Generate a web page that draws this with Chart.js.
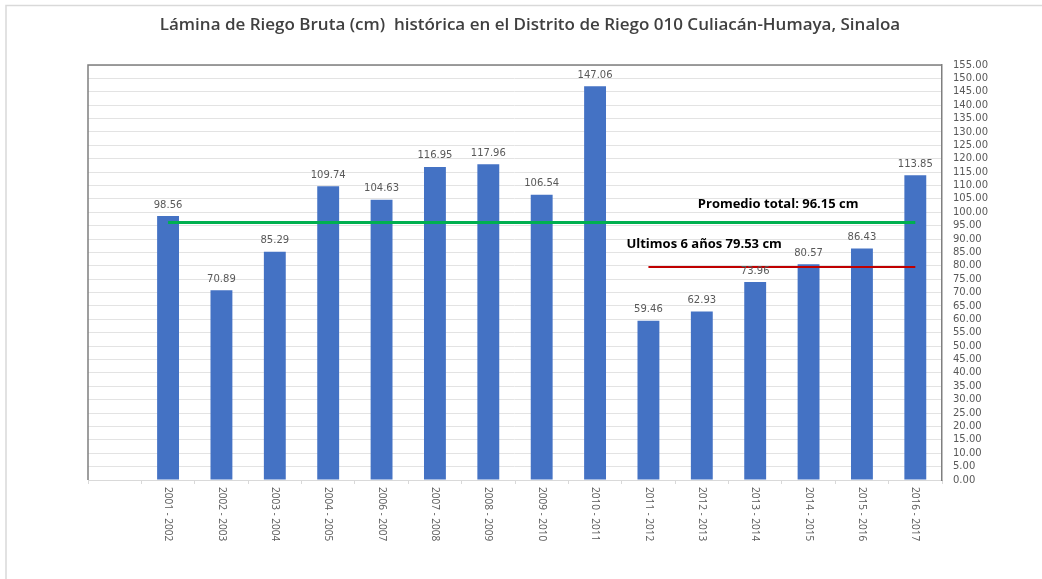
<!DOCTYPE html>
<html>
<head>
<meta charset="utf-8">
<title>Lámina de Riego Bruta</title>
<script src="https://cdn.jsdelivr.net/npm/chart.js@4/dist/chart.umd.min.js"></script>
<style>
  html, body { margin: 0; padding: 0; background: #fff; }
  #wrap { width: 1042px; height: 579px; position: relative; }
</style>
</head>
<body>
<div id="wrap"><canvas id="riego-chart" width="1042" height="579"></canvas></div>
<script>
// datos
var cycles = ['', '2001 - 2002', '2002 - 2003', '2003 - 2004', '2004 - 2005', '2006 - 2007',
    '2007 - 2008', '2008 - 2009', '2009 - 2010', '2010 - 2011', '2011 - 2012',
    '2012 - 2013', '2013 - 2014', '2014 - 2015', '2015 - 2016', '2016 - 2017'];
var laminaBruta = [null, 98.56, 70.89, 85.29, 109.74, 104.63, 116.95, 117.96, 106.54, 147.06,
    59.46, 62.93, 73.96, 80.57, 86.43, 113.85];
var promedioTotal = 96.15;
var promedioUltimos = 79.53;
var firstCycle = 1;       // primer ciclo del promedio total
var firstRecentCycle = 10; // primer ciclo de los ultimos 6 anos
var yMin = 0, yMax = 155, yStep = 5;

var chartTitle = 'Lámina de Riego Bruta (cm)  histórica en el Distrito de Riego 010 Culiacán-Humaya, Sinaloa';
var labelTotal = 'Promedio total: 96.15 cm';
var labelRecent = 'Ultimos 6 años 79.53 cm';

var totalLine = cycles.map(function(c, i) { return i >= firstCycle ? promedioTotal : null; });
var recentLine = cycles.map(function(c, i) { return i >= firstRecentCycle ? promedioUltimos : null; });

var textGray = '#595959';

var extrasPlugin = {
    id: 'extras',
    beforeDraw: function(chart) {
        var ctx = chart.ctx;
        ctx.save();
        // marco exterior
        ctx.strokeStyle = '#d9d9d9';
        ctx.lineWidth = 1.5;
        ctx.beginPath();
        ctx.moveTo(6, 579);
        ctx.lineTo(6, 5.5);
        ctx.lineTo(1042, 5.5);
        ctx.stroke();
        // titulo
        ctx.fillStyle = '#404040';
        ctx.font = '600 17px "Open Sans"';
        ctx.textAlign = 'center';
        ctx.textBaseline = 'middle';
        ctx.fillText(chartTitle, 530, 25);
        ctx.restore();
    },
    afterDatasetsDraw: function(chart) {
        var ctx = chart.ctx;
        var area = chart.chartArea;
        var xs = chart.scales.x, ys = chart.scales.y;
        ctx.save();
        // borde superior e izquierdo del area
        ctx.strokeStyle = '#7f7f7f';
        ctx.lineWidth = 1.5;
        ctx.beginPath();
        ctx.moveTo(area.left, area.bottom);
        ctx.lineTo(area.left, area.top);
        ctx.lineTo(area.right, area.top);
        ctx.stroke();

        // etiquetas de datos
        var meta = chart.getDatasetMeta(0);
        ctx.fillStyle = textGray;
        ctx.font = '10px "DejaVu Sans"';
        ctx.textAlign = 'center';
        ctx.textBaseline = 'bottom';
        meta.data.forEach(function(bar, i) {
            if (laminaBruta[i] == null) return;
            ctx.fillText(laminaBruta[i].toFixed(2), bar.x, bar.y - 6);
        });

        // etiquetas del eje x giradas
        ctx.font = '10px "Open Sans"';
        ctx.textAlign = 'left';
        ctx.textBaseline = 'middle';
        cycles.forEach(function(c, i) {
            if (!c) return;
            ctx.save();
            ctx.translate(xs.getPixelForTick(i), area.bottom + 7);
            ctx.rotate(Math.PI / 2);
            ctx.fillText(c, 0, 0);
            ctx.restore();
        });

        // textos de promedio
        ctx.fillStyle = '#000';
        ctx.font = 'bold 13px "Open Sans"';
        ctx.textAlign = 'left';
        ctx.fillText(labelTotal, xs.getPixelForValue(11) - 4, ys.getPixelForValue(promedioTotal) - 18);
        ctx.fillText(labelRecent, xs.getPixelForValue(firstRecentCycle) - 22, ys.getPixelForValue(promedioUltimos) - 23);
        ctx.restore();
    }
};

var ctxRiego = document.getElementById('riego-chart').getContext('2d');
new Chart(ctxRiego, {
    type: 'bar',
    data: {
        labels: cycles,
        datasets: [
            {
                label: 'Lámina bruta',
                data: laminaBruta,
                backgroundColor: '#4472C4',
                barPercentage: 0.41,
                categoryPercentage: 1,
                order: 2
            },
            {
                type: 'line',
                label: labelTotal,
                data: totalLine,
                borderColor: '#00B050',
                borderWidth: 3,
                pointRadius: 0,
                fill: false,
                order: 1
            },
            {
                type: 'line',
                label: labelRecent,
                data: recentLine,
                borderColor: '#C00000',
                borderWidth: 2,
                pointRadius: 0,
                fill: false,
                order: 1
            }
        ]
    },
    options: {
        responsive: false,
        animation: false,
        layout: { padding: { left: 88, top: 65, right: 0, bottom: 0 } },
        plugins: {
            legend: { display: false },
            title: { display: false },
            tooltip: { enabled: false }
        },
        scales: {
            x: {
                offset: true,
                grid: {
                    offset: true,
                    drawOnChartArea: false,
                    drawTicks: true,
                    tickLength: 4,
                    color: '#d9d9d9'
                },
                border: { color: '#d9d9d9', width: 1 },
                ticks: { display: false },
                afterFit: function(scale) { scale.height = 99; }
            },
            y: {
                position: 'right',
                min: yMin,
                max: yMax,
                grid: { color: '#e3e3e3', drawTicks: false },
                border: { color: '#7f7f7f', width: 1.5 },
                ticks: {
                    stepSize: yStep,
                    autoSkip: false,
                    padding: 11,
                    color: textGray,
                    font: { family: 'DejaVu Sans', size: 10 },
                    callback: function(v) { return v.toFixed(2); }
                },
                afterFit: function(scale) { scale.width = 100; }
            }
        }
    },
    plugins: [extrasPlugin]
});
</script>
</body>
</html>
